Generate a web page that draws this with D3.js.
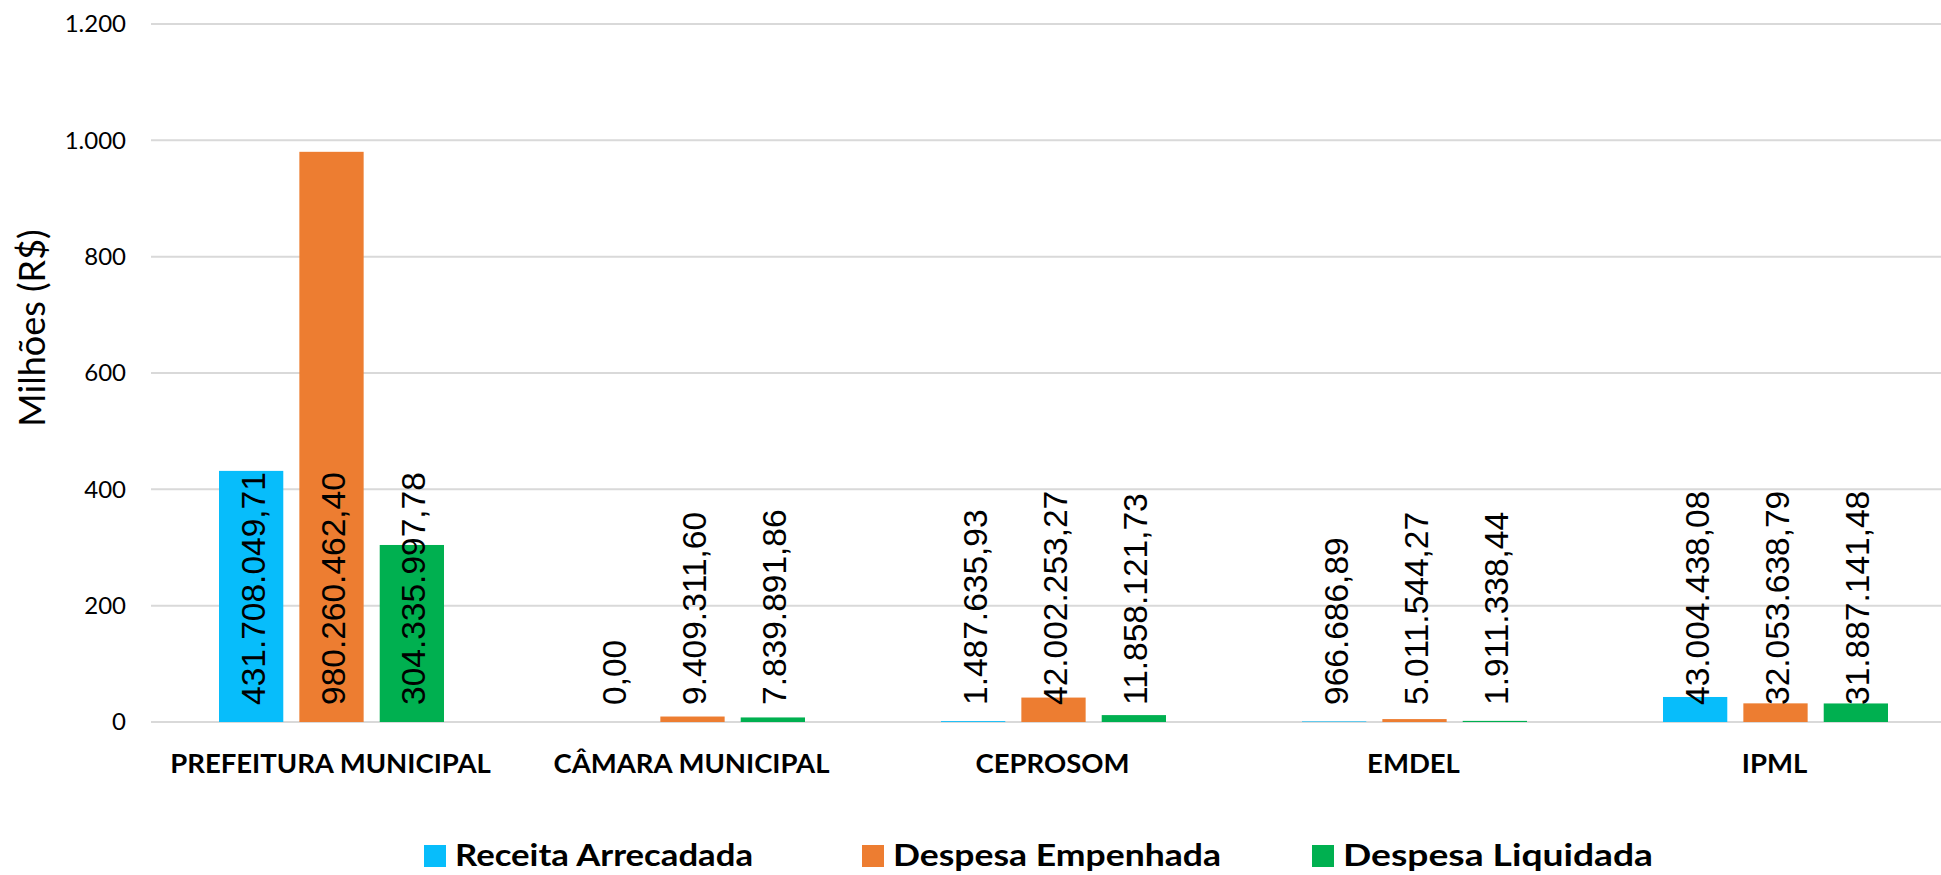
<!DOCTYPE html>
<html>
<head>
<meta charset="utf-8">
<script src="https://cdn.jsdelivr.net/npm/d3@7"></script>
<style>
  html, body { margin: 0; padding: 0; background: #fff; }
  svg { display: block; }
</style>
</head>
<body>
<svg id="chart"></svg>
<script>
"use strict"

const WIDTH = 1941;
const HEIGHT = 875;
const PLOT = { left: 151, right: 1956, top: 24, bottom: 722 };

const CATEGORIES = ["PREFEITURA MUNICIPAL", "CÂMARA MUNICIPAL", "CEPROSOM", "EMDEL", "IPML"];
const SERIES = ["Receita Arrecadada", "Despesa Empenhada", "Despesa Liquidada"];
const RECEITA = [431708049.71, 0, 1487635.93, 966686.89, 43004438.08];
const EMPENHADA = [980260462.40, 9409311.60, 42002253.27, 5011544.27, 32053638.79];
const LIQUIDADA = [304335997.78, 7839891.86, 11858121.73, 1911338.44, 31887141.48];
const Y_TICKS = [0, 200, 400, 600, 800, 1000, 1200];
const COLORS = ["#07BDFB", "#ED7D31", "#00B050"];

const ptBR = d3.formatLocale({ decimal: ",", thousands: ".", grouping: [3], currency: ["R$", ""] });
const labelFormat = ptBR.format(",.2f");
const tickFormat = ptBR.format(",d");

const svg = d3.select("#chart").attr("width", WIDTH).attr("height", HEIGHT);

const xScale = d3.scaleBand(CATEGORIES, [PLOT.left, PLOT.right]);
const inner = d3.scaleBand(SERIES, [-112.5, 112.5]).paddingInner(0.2);
const yScale = d3.scaleLinear([0, 1200], [PLOT.bottom, PLOT.top]);

// gridlines
svg.append("g")
    .selectAll("line")
    .data(Y_TICKS)
    .join("line")
    .attr("x1", PLOT.left)
    .attr("x2", WIDTH)
    .attr("y1", d => yScale(d))
    .attr("y2", d => yScale(d))
    .attr("stroke", "#d9d9d9")
    .attr("stroke-width", 2);

// y axis labels
const yaxis_g = svg.append("g")
    .attr("transform", `translate(${PLOT.left - 25},0)`)
    .call(d3.axisLeft(yScale).tickValues(Y_TICKS).tickFormat(tickFormat).tickSize(0).tickPadding(0));
yaxis_g.select(".domain").remove();
yaxis_g.selectAll("text")
    .attr("font-family", "Lato, sans-serif")
    .attr("font-size", 24)
    .attr("fill", "#000");

svg.append("text")
    .text("Milhões (R$)")
    .attr("transform", `translate(31,328) rotate(-90)`)
    .attr("text-anchor", "middle")
    .attr("dominant-baseline", "central")
    .attr("font-family", "Lato, sans-serif")
    .attr("font-size", 36)
    .attr("fill", "#000");

// bars
const rows = [];
const seriesValues = [RECEITA, EMPENHADA, LIQUIDADA];
CATEGORIES.forEach((c, i) => {
    SERIES.forEach((s, j) => {
        rows.push({ cat: c, series: s, idx: j, value: seriesValues[j][i] });
    });
});

const barX = d => xScale(d.cat) + xScale.bandwidth() / 2 + inner(d.series);

svg.append("g")
    .selectAll("rect")
    .data(rows)
    .join("rect")
    .attr("x", barX)
    .attr("width", inner.bandwidth())
    .attr("y", d => yScale(d.value / 1e6))
    .attr("height", d => yScale(0) - yScale(d.value / 1e6))
    .attr("fill", d => COLORS[d.idx]);

// data labels, rotated, anchored near the base
svg.append("g")
    .selectAll("text")
    .data(rows)
    .join("text")
    .text(d => labelFormat(d.value))
    .attr("transform", d => `translate(${barX(d) + inner.bandwidth() / 2 + 2},${yScale(0) - 17}) rotate(-90)`)
    .attr("text-anchor", "start")
    .attr("dominant-baseline", "central")
    .attr("font-family", "'Liberation Sans', Arial, sans-serif")
    .attr("font-size", 33.5)
    .attr("fill", "#000");

// category labels
svg.append("g")
    .selectAll("text")
    .data(CATEGORIES)
    .join("text")
    .text(d => d)
    .attr("x", d => xScale(d) + xScale.bandwidth() / 2 - 1)
    .attr("y", 773)
    .attr("text-anchor", "middle")
    .attr("font-family", "Lato, sans-serif")
    .attr("font-weight", "bold")
    .attr("font-size", 27.5)
    .attr("fill", "#000");

// legend
const LEGEND_X = [424, 862, 1312];
const LEGEND_W = [298, 328, 310];
const legend = svg.append("g");
SERIES.forEach((s, j) => {
    legend.append("rect")
        .attr("x", LEGEND_X[j])
        .attr("y", 845)
        .attr("width", 22)
        .attr("height", 22)
        .attr("fill", COLORS[j]);
    legend.append("text")
        .text(s)
        .attr("x", LEGEND_X[j] + 31)
        .attr("y", 866)
        .attr("textLength", LEGEND_W[j])
        .attr("lengthAdjust", "spacingAndGlyphs")
        .attr("font-family", "Lato, sans-serif")
        .attr("font-weight", "bold")
        .attr("font-size", 31)
        .attr("fill", "#000");
});
</script>
</body>
</html>
